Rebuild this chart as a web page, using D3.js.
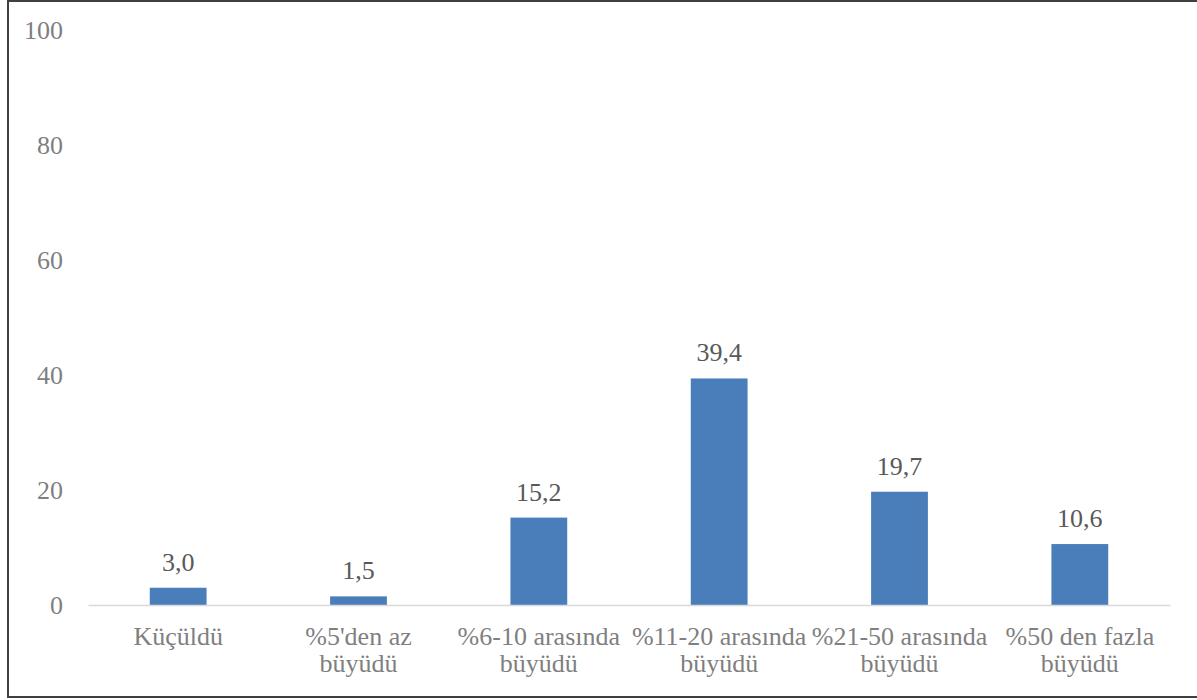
<!DOCTYPE html>
<html>
<head>
<meta charset="utf-8">
<script src="https://cdn.jsdelivr.net/npm/d3@7"></script>
<style>
  html, body { margin: 0; padding: 0; background: #fff; }
  svg { display: block; }
  svg text { font-family: "Liberation Serif", "Times New Roman", Tinos, "DejaVu Serif", serif; font-size: 26px; }
</style>
</head>
<body>
<svg id="chart" width="1197" height="700"></svg>
<script>
const categories = ["Küçüldü", "%5'den az büyüdü", "%6-10 arasında büyüdü", "%11-20 arasında büyüdü", "%21-50 arasında büyüdü", "%50 den fazla büyüdü"];
const values = [3.0, 1.5, 15.2, 39.4, 19.7, 10.6];
const yTicks = [0, 20, 40, 60, 80, 100];

const svg = d3.select("#chart");
const W = 1197, H = 700;
const m = { left: 88, right: 27, top: 30, bottom: 95 };

// frame
svg.append("rect").attr("x", 8).attr("y", 1).attr("width", W + 10).attr("height", 696)
  .attr("fill", "none").attr("stroke", "#404040").attr("stroke-width", 2);

const x = d3.scaleBand().domain(categories).range([m.left, W - m.right]).padding(0);
const y = d3.scaleLinear().domain([0, 100]).range([H - m.bottom, m.top]);

// y axis labels
const yAxis = d3.axisLeft(y).tickValues(yTicks).tickSize(0).tickPadding(25).tickFormat(d3.format("d"));
const gy = svg.append("g").attr("transform", `translate(${m.left},0)`).call(yAxis);
gy.attr("font-family", null).attr("font-size", null);
gy.select(".domain").remove();
gy.selectAll("text").attr("fill", "#7f7f7f");

// bars
const bw = x.bandwidth() * 0.315;
svg.append("g").selectAll("rect").data(values).join("rect")
  .attr("x", (d, i) => x(categories[i]) + x.bandwidth() / 2 - bw / 2)
  .attr("y", d => y(d))
  .attr("width", bw)
  .attr("height", d => y(0) - y(d))
  .attr("fill", "#4a7ebb");

// x axis line
const xAxis = d3.axisBottom(x).tickSize(0).tickFormat("");
const gx = svg.append("g").attr("transform", `translate(0,${y(0)})`).call(xAxis);
gx.select(".domain").attr("stroke", "#d9d9d9").attr("stroke-width", 1.5);

// category labels (wrapped)
const tmp = svg.append("text").attr("visibility", "hidden");
function measure(s) { tmp.text(s); return tmp.node().getComputedTextLength(); }
function wrap(s, maxW) {
  const words = s.split(" ");
  const lines = [];
  let cur = "";
  words.forEach(w => {
    const t = cur ? cur + " " + w : w;
    if (cur && measure(t) > maxW) { lines.push(cur); cur = w; } else cur = t;
  });
  if (cur) lines.push(cur);
  return lines;
}
const lab = svg.append("g");
categories.forEach(c => {
  const lines = wrap(c, 180);
  const t = lab.append("text")
    .attr("x", x(c) + x.bandwidth() / 2)
    .attr("y", y(0) + 40)
    .attr("text-anchor", "middle")
    .attr("fill", "#7f7f7f");
  lines.forEach((l, j) => {
    t.append("tspan").attr("x", x(c) + x.bandwidth() / 2).attr("dy", j === 0 ? 0 : 27).text(l);
  });
});
tmp.remove();

// data labels
svg.append("g").selectAll("text").data(values).join("text")
  .attr("x", (d, i) => x(categories[i]) + x.bandwidth() / 2)
  .attr("y", d => y(d) - 17)
  .attr("text-anchor", "middle")
  .attr("fill", "#595959")
  .text(d => d3.format(".1f")(d).replace(".", ","));
</script>
</body>
</html>
